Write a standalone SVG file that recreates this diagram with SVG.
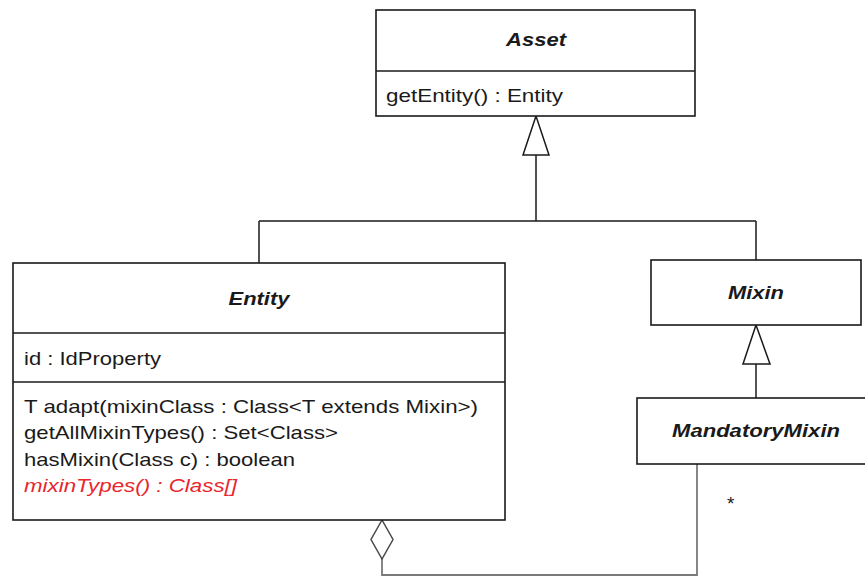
<svg xmlns="http://www.w3.org/2000/svg" width="865" height="576" viewBox="0 0 865 576">
<style>
.box{fill:#fff;stroke:#1a1a1a;stroke-width:1.6}
.div{stroke:#1a1a1a;stroke-width:1.6}
.t{font-family:"Liberation Sans",Arial,sans-serif;font-size:19px;fill:#1a1a1a}
.title{font-weight:bold;font-style:italic;text-anchor:middle}
.red{fill:#e8262c;font-style:italic}
.gen{fill:none;stroke:#1a1a1a;stroke-width:1.5}
.assoc{fill:none;stroke:#7a7a7a;stroke-width:1.8}
</style>
<g id="connectors">
<path class="gen" d="M536 155 V221 M259 221 H756 M259 221 V263 M756 221 V260"/>
<polygon class="gen" fill="#fff" points="536,116 523,155 549,155" style="fill:#fff"/>
<path class="gen" d="M756 364 V398"/>
<polygon class="gen" points="756,325 743,364 770,364" style="fill:#fff"/>
<path class="assoc" d="M382 559 V575 H697 V464"/>
<polygon points="382,520 371,539.5 382,559 393,539.5" style="fill:#fff;stroke:#4a4a4a;stroke-width:1.5"/>
<text class="t" x="727" y="510" font-size="16">*</text>
</g>
<g id="asset">
<rect class="box" x="376" y="10" width="319" height="106"/>
<line class="div" x1="376" y1="71" x2="695" y2="71"/>
<text class="t title" x="536" y="46" textLength="60" lengthAdjust="spacingAndGlyphs">Asset</text>
<text class="t" x="386" y="102" textLength="177" lengthAdjust="spacingAndGlyphs">getEntity() : Entity</text>
</g>
<g id="entity">
<rect class="box" x="13" y="263" width="492" height="257"/>
<line class="div" x1="13" y1="333" x2="505" y2="333"/>
<line class="div" x1="13" y1="382" x2="505" y2="382"/>
<text class="t title" x="259" y="305" textLength="61" lengthAdjust="spacingAndGlyphs">Entity</text>
<text class="t" x="24" y="365" textLength="137" lengthAdjust="spacingAndGlyphs">id : IdProperty</text>
<text class="t" x="24" y="413" textLength="454" lengthAdjust="spacingAndGlyphs">T adapt(mixinClass : Class&lt;T extends Mixin&gt;)</text>
<text class="t" x="24" y="439" textLength="314" lengthAdjust="spacingAndGlyphs">getAllMixinTypes() : Set&lt;Class&gt;</text>
<text class="t" x="24" y="466" textLength="271" lengthAdjust="spacingAndGlyphs">hasMixin(Class c) : boolean</text>
<text class="t red" x="24" y="492" textLength="213" lengthAdjust="spacingAndGlyphs">mixinTypes() : Class[]</text>
</g>
<g id="mixin">
<rect class="box" x="651" y="260" width="210" height="65"/>
<text class="t title" x="756" y="299" textLength="56" lengthAdjust="spacingAndGlyphs">Mixin</text>
</g>
<g id="mandatoryMixin">
<rect class="box" x="637" y="398" width="240" height="66"/>
<text class="t title" x="756" y="437" textLength="168" lengthAdjust="spacingAndGlyphs">MandatoryMixin</text>
</g>
</svg>
